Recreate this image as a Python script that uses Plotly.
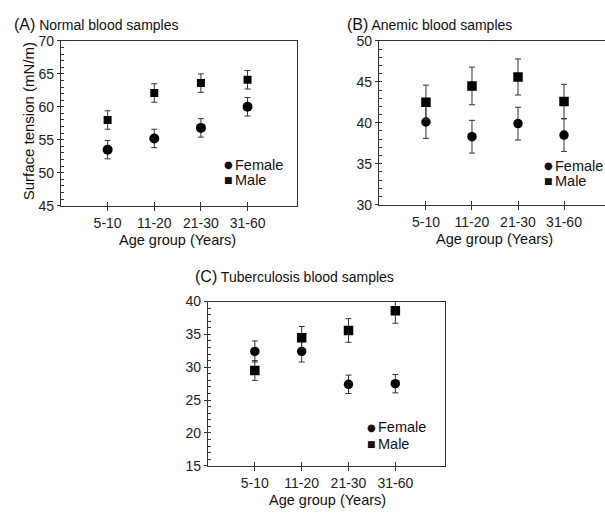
import plotly.graph_objects as go

W, H = 605, 513

groups = ["5-10", "11-20", "21-30", "31-60"]

# Panel A: Normal blood samples
a_female = [53.5, 55.2, 56.8, 60.0]
a_female_err = [1.4, 1.4, 1.4, 1.4]
a_male = [58.0, 62.1, 63.6, 64.1]
a_male_err = [1.4, 1.4, 1.4, 1.4]

# Panel B: Anemic blood samples
b_female = [40.1, 38.3, 39.9, 38.5]
b_female_err = [2.0, 2.0, 2.0, 2.0]
b_male = [42.5, 44.5, 45.6, 42.6]
b_male_err = [2.1, 2.3, 2.2, 2.1]

# Panel C: Tuberculosis blood samples
c_female = [32.4, 32.4, 27.4, 27.5]
c_female_err = [1.6, 1.6, 1.4, 1.4]
c_male = [29.5, 34.5, 35.6, 38.6]
c_male_err = [1.5, 1.7, 1.8, 1.9]

xpos = list(range(1, len(groups) + 1))

FONT = "Liberation Sans, Arial, sans-serif"
AX = "#333333"

def px(x):
    return x / W

def py(y):
    return 1 - y / H

fig = go.Figure()

panels = [
    ("", "4", a_female, a_female_err, a_male, a_male_err, 10, 8),
    ("2", "5", b_female, b_female_err, b_male, b_male_err, 9.5, 9.5),
    ("3", "6", c_female, c_female_err, c_male, c_male_err, 9.5, 9.5),
]

for sfx, osfx, fv, fe, mv, me, fs, ms in panels:
    fig.add_trace(go.Scatter(
        x=xpos, y=fv, mode="markers", name="Female", showlegend=False,
        marker=dict(symbol="circle", size=fs, color="black"),
        error_y=dict(type="data", array=fe, color=AX, thickness=1, width=3),
        xaxis="x" + sfx, yaxis="y" + sfx))
    fig.add_trace(go.Scatter(
        x=xpos, y=mv, mode="markers", name="Male", showlegend=False,
        marker=dict(symbol="square", size=ms, color="black"),
        error_y=dict(type="data", array=me, color=AX, thickness=1, width=3),
        xaxis="x" + sfx, yaxis="y" + sfx))
    # empty trace so the overlay axes (inner tick marks) get drawn
    fig.add_trace(go.Scatter(
        x=[None], y=[None], mode="markers", showlegend=False, hoverinfo="skip",
        xaxis="x" + osfx, yaxis="y" + osfx))

tickfont = dict(family=FONT, size=14, color="#222")

def xaxis(domain, rng, anchor):
    return dict(domain=domain, range=rng, anchor=anchor,
                tickmode="array", tickvals=xpos, ticktext=groups,
                ticks="outside", ticklen=4, tickwidth=1, tickcolor=AX,
                ticklabelstandoff=0,
                showline=True, linecolor=AX, linewidth=1.2, mirror=True,
                showgrid=False, zeroline=False, tickfont=tickfont,
                fixedrange=True)

def xover(over, rng, anchor):
    return dict(overlaying=over, range=rng, anchor=anchor, side="bottom",
                tickmode="array", tickvals=xpos, showticklabels=False,
                ticks="inside", ticklen=4, tickwidth=1, tickcolor=AX,
                showline=False, showgrid=False, zeroline=False,
                fixedrange=True)

def yaxis(domain, rng, anchor, mirror=True):
    return dict(domain=domain, range=rng, anchor=anchor,
                tick0=rng[0], dtick=5,
                ticks="outside", ticklen=3, tickwidth=1, tickcolor=AX,
                showline=True, linecolor=AX, linewidth=1.2, mirror=mirror,
                showgrid=False, zeroline=False, tickfont=tickfont,
                fixedrange=True)

def yover(over, rng, anchor):
    return dict(overlaying=over, range=rng, anchor=anchor, side="left",
                tick0=rng[0], dtick=1, showticklabels=False,
                ticks="inside", ticklen=3, tickwidth=1, tickcolor=AX,
                showline=False, showgrid=False, zeroline=False,
                fixedrange=True)

ra, rb, rc = [0.0, 5.06], [-0.02, 4.89], [0.0, 5.06]
ya, yb, yc = [45, 70], [30, 50], [15, 40]

layout = dict(
    width=W, height=H,
    margin=dict(l=0, r=0, t=0, b=0),
    paper_bgcolor="white", plot_bgcolor="white",
    showlegend=False,
    xaxis=xaxis([px(61), px(297)], ra, "y"),
    yaxis=yaxis([py(204), py(34)], ya, "x"),
    xaxis2=xaxis([px(379), 1.0], rb, "y2"),
    yaxis2=yaxis([py(203), py(34)], yb, "x2", mirror=False),
    xaxis3=xaxis([px(208), px(445)], rc, "y3"),
    yaxis3=yaxis([py(472.5), py(303)], yc, "x3"),
    xaxis4=xover("x", ra, "y4"),
    yaxis4=yover("y", ya, "x4"),
    xaxis5=xover("x2", rb, "y5"),
    yaxis5=yover("y2", yb, "x5"),
    xaxis6=xover("x3", rc, "y6"),
    yaxis6=yover("y3", yc, "x6"),
)
fig.update_layout(**layout)

def ann(text, x, y, size=14.5, xanchor="left", textangle=0, family=FONT):
    fig.add_annotation(text=text, x=px(x), y=py(y), xref="paper", yref="paper",
                       xanchor=xanchor, yanchor="middle", showarrow=False,
                       textangle=textangle,
                       font=dict(family=family, size=size, color="#111"))

# Panel titles
ann('<span style="font-size:16px">(A)</span> Normal blood samples', 12, 17.5, size=14)
ann('<span style="font-size:16px">(B)</span> Anemic blood samples', 345, 17.5, size=14)
ann('<span style="font-size:16px">(C)</span> Tuberculosis blood samples', 193, 277, size=14)

# Axis titles
ann("Age group (Years)", 177, 239, xanchor="center")
ann("Age group (Years)", 494, 238, xanchor="center")
ann("Age group (Years)", 328, 507.5, xanchor="center")
ann("Surface tension (mN/m)", 28, 117, size=15, xanchor="center", textangle=-90)

# Legends (symbol + label)
legends = [(228, 162, 178), (548, 163, 179), (371, 433, 450)]
for cx, yf, ym in legends:
    ann("●", cx, yf, size=10, xanchor="center", family="DejaVu Sans")
    ann("Female", cx + 5, yf, size=14.5)
    ann("■", cx, ym, size=9, xanchor="center", family="DejaVu Sans")
    ann("Male", cx + 5, ym, size=14.5)

fig.write_html("out.html", config={"displayModeBar": False})
